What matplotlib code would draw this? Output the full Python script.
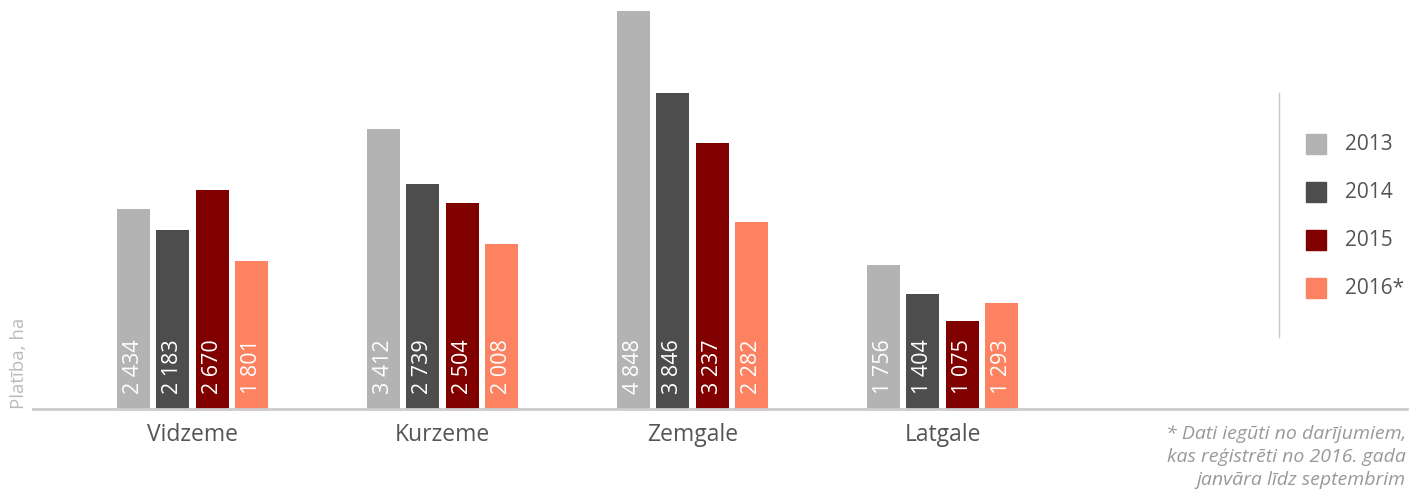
import matplotlib.pyplot as plt
from matplotlib.patches import Rectangle
from matplotlib.lines import Line2D
import numpy as np

regioni = ['Vidzeme', 'Kurzeme', 'Zemgale', 'Latgale']
gadi = ['2013', '2014', '2015', '2016*']
v2013 = [2434, 3412, 4848, 1756]
v2014 = [2183, 2739, 3846, 1404]
v2015 = [2670, 2504, 3237, 1075]
v2016 = [1801, 2008, 2282, 1293]
krasas = ['#b3b3b3', '#4d4d4d', '#800000', '#fd8262']

W, H = 1421, 491
plt.rcParams['font.family'] = ['Open Sans', 'DejaVu Sans']

def fx(px):
    return px / W

def fy(py):
    return 1 - py / H

fig = plt.figure(figsize=(W / 100, H / 100), dpi=100)
ax = fig.add_axes([fx(33), fy(409), fx(1407) - fx(33), fy(11) - fy(409)])

x = np.arange(len(regioni))
solis = 0.158
platums = 0.132
serijas = [v2013, v2014, v2015, v2016]
for i, (vals, c) in enumerate(zip(serijas, krasas)):
    pos = x + (i - 1.5) * solis
    ax.bar(pos, vals, width=platums, color=c, zorder=2)
    for p, v in zip(pos, vals):
        txt = f'{v:,}'.replace(',', ' ')
        ax.text(p, 185, txt, rotation=90, ha='center', va='bottom',
                color='white', fontsize=15.5, zorder=3)

ax.set_xlim(-0.638, 4.858)
ax.set_ylim(0, 4848)
ax.set_xticks(x)
ax.set_xticklabels(regioni, fontsize=16.5, color='#555555')
ax.tick_params(axis='x', length=0, pad=10)
ax.set_yticks([])
for s in ['top', 'right', 'left']:
    ax.spines[s].set_visible(False)
ax.spines['bottom'].set_color('#cccccc')
ax.spines['bottom'].set_linewidth(2)

fig.text(fx(19), fy(409), 'Platība, ha', rotation=90, ha='center', va='bottom',
         color='#bbbbbb', fontsize=13.5)

# legend
fig.add_artist(Line2D([fx(1279), fx(1279)], [fy(93), fy(337)], color='#c8c8c8',
                      lw=1, transform=fig.transFigure))
for i, (g, c) in enumerate(zip(gadi, krasas)):
    yc = 144 + i * 48
    fig.add_artist(Rectangle((fx(1306), fy(yc + 10)), fx(20), 20 / H,
                             color=c, transform=fig.transFigure))
    fig.text(fx(1345), fy(yc), g, ha='left', va='center', color='#555555', fontsize=15)

fig.text(fx(1406), fy(457), '* Dati iegūti no darījumiem,\nkas reģistrēti no 2016. gada\njanvāra līdz septembrim',
         ha='right', va='center', style='italic', color='#999999', fontsize=14,
         linespacing=1.38, multialignment='right')

fig.savefig('out.png', dpi=100)
